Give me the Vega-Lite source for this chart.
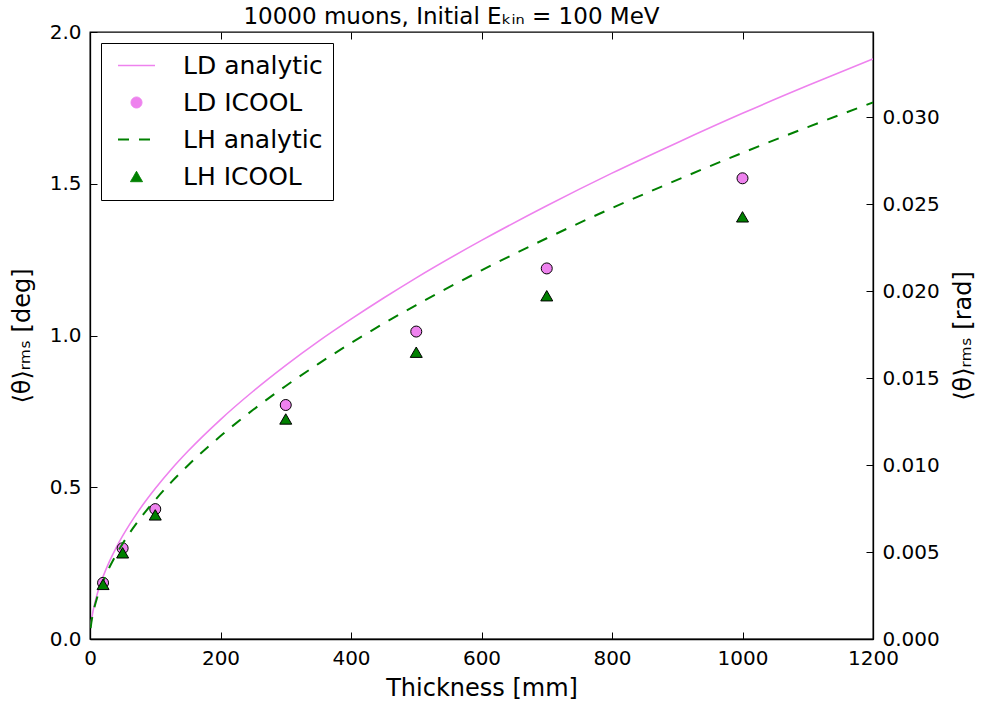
{
  "$schema": "https://vega.github.io/schema/vega-lite/v6.json",
  "width": 783,
  "height": 607,
  "autosize": {"type": "none"},
  "padding": {"left": 90, "top": 32, "right": 109, "bottom": 67},
  "background": "white",
  "title": {
    "text": "10000 muons, Initial Eₖᵢₙ = 100 MeV",
    "fontSize": 23,
    "fontWeight": "normal",
    "font": "DejaVu Sans",
    "color": "black",
    "offset": 5,
    "dy": 12,
    "dx": -30,
    "anchor": "middle"
  },
  "datasets": {
    "ld_analytic": [
      {"series": "LD analytic", "x": 1, "y": 0.0392},
      {"series": "LD analytic", "x": 2, "y": 0.0576},
      {"series": "LD analytic", "x": 3, "y": 0.0722},
      {"series": "LD analytic", "x": 5, "y": 0.0958},
      {"series": "LD analytic", "x": 10, "y": 0.1404},
      {"series": "LD analytic", "x": 15, "y": 0.1754},
      {"series": "LD analytic", "x": 20, "y": 0.2055},
      {"series": "LD analytic", "x": 30, "y": 0.2567},
      {"series": "LD analytic", "x": 40, "y": 0.3005},
      {"series": "LD analytic", "x": 50, "y": 0.3395},
      {"series": "LD analytic", "x": 75, "y": 0.4238},
      {"series": "LD analytic", "x": 100, "y": 0.4957},
      {"series": "LD analytic", "x": 125, "y": 0.5602},
      {"series": "LD analytic", "x": 150, "y": 0.6185},
      {"series": "LD analytic", "x": 200, "y": 0.7231},
      {"series": "LD analytic", "x": 250, "y": 0.8163},
      {"series": "LD analytic", "x": 300, "y": 0.9016},
      {"series": "LD analytic", "x": 350, "y": 0.9806},
      {"series": "LD analytic", "x": 400, "y": 1.0537},
      {"series": "LD analytic", "x": 450, "y": 1.1234},
      {"series": "LD analytic", "x": 500, "y": 1.19},
      {"series": "LD analytic", "x": 600, "y": 1.3133},
      {"series": "LD analytic", "x": 700, "y": 1.4275},
      {"series": "LD analytic", "x": 800, "y": 1.535},
      {"series": "LD analytic", "x": 900, "y": 1.6354},
      {"series": "LD analytic", "x": 1000, "y": 1.732},
      {"series": "LD analytic", "x": 1100, "y": 1.8234},
      {"series": "LD analytic", "x": 1200, "y": 1.911}
    ],
    "lh_analytic": [
      {"series": "LH analytic", "x": 1, "y": 0.0362},
      {"series": "LH analytic", "x": 2, "y": 0.0532},
      {"series": "LH analytic", "x": 3, "y": 0.0666},
      {"series": "LH analytic", "x": 5, "y": 0.0884},
      {"series": "LH analytic", "x": 10, "y": 0.1296},
      {"series": "LH analytic", "x": 15, "y": 0.1621},
      {"series": "LH analytic", "x": 20, "y": 0.1898},
      {"series": "LH analytic", "x": 30, "y": 0.2371},
      {"series": "LH analytic", "x": 40, "y": 0.2777},
      {"series": "LH analytic", "x": 50, "y": 0.3138},
      {"series": "LH analytic", "x": 75, "y": 0.3917},
      {"series": "LH analytic", "x": 100, "y": 0.4582},
      {"series": "LH analytic", "x": 125, "y": 0.5178},
      {"series": "LH analytic", "x": 150, "y": 0.5717},
      {"series": "LH analytic", "x": 200, "y": 0.6687},
      {"series": "LH analytic", "x": 250, "y": 0.7551},
      {"series": "LH analytic", "x": 300, "y": 0.8337},
      {"series": "LH analytic", "x": 350, "y": 0.9066},
      {"series": "LH analytic", "x": 400, "y": 0.9749},
      {"series": "LH analytic", "x": 450, "y": 1.0394},
      {"series": "LH analytic", "x": 500, "y": 1.1004},
      {"series": "LH analytic", "x": 600, "y": 1.2147},
      {"series": "LH analytic", "x": 700, "y": 1.3204},
      {"series": "LH analytic", "x": 800, "y": 1.4198},
      {"series": "LH analytic", "x": 900, "y": 1.5127},
      {"series": "LH analytic", "x": 1000, "y": 1.602},
      {"series": "LH analytic", "x": 1100, "y": 1.6866},
      {"series": "LH analytic", "x": 1200, "y": 1.768}
    ],
    "ld_icool": [
      {"series": "LD ICOOL", "x": 20, "y": 0.185},
      {"series": "LD ICOOL", "x": 50, "y": 0.299},
      {"series": "LD ICOOL", "x": 100, "y": 0.428},
      {"series": "LD ICOOL", "x": 300, "y": 0.771},
      {"series": "LD ICOOL", "x": 500, "y": 1.013},
      {"series": "LD ICOOL", "x": 700, "y": 1.221},
      {"series": "LD ICOOL", "x": 1000, "y": 1.518}
    ],
    "lh_icool": [
      {"series": "LH ICOOL", "x": 20, "y": 0.18},
      {"series": "LH ICOOL", "x": 50, "y": 0.284},
      {"series": "LH ICOOL", "x": 100, "y": 0.409},
      {"series": "LH ICOOL", "x": 300, "y": 0.725},
      {"series": "LH ICOOL", "x": 500, "y": 0.945},
      {"series": "LH ICOOL", "x": 700, "y": 1.131},
      {"series": "LH ICOOL", "x": 1000, "y": 1.391}
    ],
    "rad_range": [
      {"x": 0, "rad": 0},
      {"x": 1200, "rad": 0.0349066}
    ]
  },
  "layer": [
    {
      "layer": [
        {
          "data": {"name": "ld_analytic"},
          "mark": {"type": "line", "strokeWidth": 1.6, "interpolate": "monotone", "clip": true},
          "encoding": {
            "x": {"field": "x", "type": "quantitative"},
            "y": {"field": "y", "type": "quantitative"},
            "color": {
              "field": "series",
              "type": "nominal",
              "scale": {
                "domain": ["LD analytic", "LD ICOOL", "LH analytic", "LH ICOOL"],
                "range": ["#ee82ee", "#ee82ee", "#008000", "#008000"]
              },
              "legend": {
                "title": null,
                "orient": "top-left",
                "offset": 11,
                "padding": 10,
                "strokeColor": "black",
                "fillColor": "white",
                "cornerRadius": 0,
                "labelFont": "DejaVu Sans",
                "labelFontSize": 25,
                "labelColor": "black",
                "labelOffset": 34,
                "labelLimit": 300,
                "symbolSize": 1369,
                "symbolOffset": 13,
                "rowPadding": 11,
                "encode": {
                  "symbols": {
                    "update": {
                      "shape": {"signal": "datum.value === 'LD ICOOL' ? 'circle' : datum.value === 'LH ICOOL' ? 'triangle-up' : 'stroke'"},
                      "size": {"signal": "datum.value === 'LD ICOOL' ? 121 : datum.value === 'LH ICOOL' ? 144 : 1369"},
                      "fill": {"signal": "datum.value === 'LD ICOOL' ? '#ee82ee' : datum.value === 'LH ICOOL' ? '#008000' : 'transparent'"},
                      "stroke": {"signal": "datum.value === 'LD analytic' ? '#ee82ee' : datum.value === 'LH analytic' ? '#008000' : 'black'"},
                      "strokeWidth": {"signal": "datum.value === 'LD analytic' ? 1.6 : datum.value === 'LH analytic' ? 2 : 1"},
                      "strokeDash": {"signal": "datum.value === 'LH analytic' ? [11, 10] : [1, 0]"}
                    }
                  }
                }
              }
            }
          }
        },
        {
          "data": {"name": "ld_icool"},
          "mark": {"type": "point", "shape": "circle", "filled": true, "size": 121, "stroke": "black", "strokeWidth": 1, "opacity": 1},
          "encoding": {
            "x": {"field": "x", "type": "quantitative"},
            "y": {"field": "y", "type": "quantitative"},
            "color": {"field": "series", "type": "nominal"}
          }
        },
        {
          "data": {"name": "lh_analytic"},
          "mark": {"type": "line", "strokeWidth": 2, "strokeDash": [11, 10], "interpolate": "monotone", "clip": true},
          "encoding": {
            "x": {"field": "x", "type": "quantitative"},
            "y": {"field": "y", "type": "quantitative"},
            "color": {"field": "series", "type": "nominal"}
          }
        },
        {
          "data": {"name": "lh_icool"},
          "mark": {"type": "point", "shape": "triangle-up", "filled": true, "size": 144, "stroke": "black", "strokeWidth": 1, "opacity": 1},
          "encoding": {
            "x": {
              "field": "x",
              "type": "quantitative",
              "scale": {"domain": [0, 1200], "nice": false},
              "axis": {
                "title": "Thickness [mm]",
                "values": [0, 200, 400, 600, 800, 1000, 1200],
                "format": "d",
                "titlePadding": 8
              }
            },
            "y": {
              "field": "y",
              "type": "quantitative",
              "scale": {"domain": [0, 2], "nice": false},
              "axis": {
                "title": "⟨θ⟩ᵣₘₛ [deg]",
                "values": [0, 0.5, 1, 1.5, 2],
                "format": ".1f",
                "titlePadding": 15
              }
            },
            "color": {"field": "series", "type": "nominal"}
          }
        }
      ]
    },
    {
      "data": {"name": "rad_range"},
      "mark": {"type": "point", "opacity": 0},
      "encoding": {
        "x": {
          "field": "x",
          "type": "quantitative",
          "scale": {"domain": [0, 1200], "nice": false},
          "axis": {
            "orient": "top",
            "values": [0, 200, 400, 600, 800, 1000, 1200],
            "labels": false,
            "title": null,
            "domain": false
          }
        },
        "y": {
          "field": "rad",
          "type": "quantitative",
          "scale": {"domain": [0, 0.0349066], "nice": false},
          "axis": {
            "orient": "right",
            "title": "⟨θ⟩ᵣₘₛ [rad]",
            "titleAngle": 270,
            "titleBaseline": "top",
            "values": [0, 0.005, 0.01, 0.015, 0.02, 0.025, 0.03],
            "format": ".3f",
            "titlePadding": 12
          }
        }
      }
    }
  ],
  "resolve": {
    "scale": {"x": "independent", "y": "independent"},
    "axis": {"x": "independent", "y": "independent"}
  },
  "config": {
    "font": "DejaVu Sans",
    "view": {"stroke": "black", "strokeWidth": 1.3},
    "axis": {
      "grid": false,
      "domainColor": "black",
      "domainWidth": 1.3,
      "tickColor": "black",
      "tickWidth": 1,
      "tickSize": -7,
      "labelPadding": 16,
      "labelFont": "DejaVu Sans",
      "labelFontSize": 20,
      "labelColor": "black",
      "labelFlush": false,
      "labelOverlap": false,
      "titleFont": "DejaVu Sans",
      "titleFontSize": 24,
      "titleFontWeight": "normal",
      "titleColor": "black"
    }
  }
}
